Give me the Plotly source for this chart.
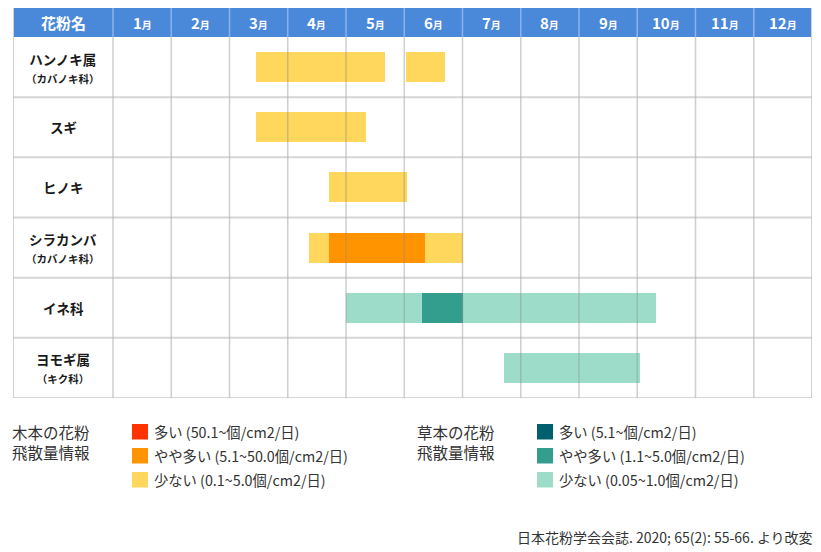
import plotly.graph_objects as go

# ---------------- data ----------------
species = ["ハンノキ属", "スギ", "ヒノキ", "シラカンバ", "イネ科", "ヨモギ属"]
families = ["カバノキ科", "", "", "カバノキ科", "", "キク科"]
months = ["1", "2", "3", "4", "5", "6", "7", "8", "9", "10", "11", "12"]

# flight periods (months since 1 Jan; 2.45 = mid-March)
seg_species = ["ハンノキ属", "ハンノキ属", "スギ", "ヒノキ",
               "シラカンバ", "シラカンバ", "シラカンバ",
               "イネ科", "イネ科", "イネ科", "ヨモギ属"]
seg_start = [2.45, 5.03, 2.45, 3.71, 3.36, 3.70, 5.36, 4.00, 5.30, 6.00, 6.71]
seg_end = [4.67, 5.70, 4.34, 5.04, 3.70, 5.36, 6.01, 5.30, 6.00, 9.33, 9.05]
seg_level = ["w_low", "w_low", "w_low", "w_low", "w_low", "w_mid", "w_low",
             "g_low", "g_mid", "g_low", "g_low"]

level_keys = ["w_high", "w_mid", "w_low", "g_high", "g_mid", "g_low"]
level_labels = ["多い (50.1~個/cm2/日)", "やや多い (5.1~50.0個/cm2/日)", "少ない (0.1~5.0個/cm2/日)",
                "多い (5.1~個/cm2/日)", "やや多い (1.1~5.0個/cm2/日)", "少ない (0.05~1.0個/cm2/日)"]
level_colors = ["#FF3300", "#FF9300", "#FFD75C", "#005E6E", "#349E8E", "#9EDCCA"]
group_titles = ["木本の花粉<br>飛散量情報", "草本の花粉<br>飛散量情報"]
source_text = "日本花粉学会会誌. 2020; 65(2): 55-66. より改変"

# ---------------- layout constants ----------------
OFF = 8                  # page body margin
W, H = 821 - OFF, 552 - OFF
ML, MR, MT, MB = 13 - OFF, 9, 8 - OFF, 552 - 398
NAME_W = -1.717          # name column left edge in month units
HEADER = -0.482          # header top in row units
FONT = "Noto Sans CJK JP"

fig = go.Figure()

row_of = {s: i for i, s in enumerate(species)}
for key, col in zip(level_keys, level_colors):
    ys, xs, bases = [], [], []
    for s, a, b, lv in zip(seg_species, seg_start, seg_end, seg_level):
        if lv == key:
            ys.append(row_of[s] + 0.5)
            xs.append(b - a)
            bases.append(a)
    if ys:
        fig.add_trace(go.Bar(y=ys, x=xs, base=bases, orientation="h", width=0.5,
                             marker=dict(color=col, line=dict(width=0)),
                             showlegend=False, hoverinfo="skip"))

shapes = []
# header background
shapes.append(dict(type="rect", xref="x", yref="y", x0=NAME_W, x1=12, y0=HEADER, y1=0,
                   fillcolor="#4A88DA", line=dict(width=0), layer="below"))
# header separators
for i in range(12):
    shapes.append(dict(type="line", xref="x", yref="y", x0=i, x1=i, y0=HEADER, y1=0,
                       line=dict(color="#8DB3EA", width=1.5), layer="above"))
# vertical grid
for i in range(13):
    shapes.append(dict(type="line", xref="x", yref="y", x0=i, x1=i, y0=0, y1=len(species),
                       line=dict(color="rgba(140,140,140,0.42)", width=1.5), layer="above"))
shapes.append(dict(type="line", xref="x", yref="y", x0=NAME_W, x1=NAME_W, y0=HEADER, y1=len(species),
                   line=dict(color="#D2D2D2", width=2), layer="above"))
shapes.append(dict(type="line", xref="x", yref="y", x0=12, x1=12, y0=HEADER, y1=len(species),
                   line=dict(color="#D2D2D2", width=2), layer="above"))
# horizontal grid
for j in range(1, len(species) + 1):
    shapes.append(dict(type="line", xref="x", yref="y", x0=NAME_W, x1=12, y0=j, y1=j,
                       line=dict(color="rgba(180,180,180,0.55)", width=2), layer="above"))

annotations = []
annotations.append(dict(x=NAME_W / 2, y=HEADER / 2, xref="x", yref="y", showarrow=False,
                        text="<b>花粉名</b>", font=dict(family=FONT, size=15, color="white")))
for i, m in enumerate(months):
    annotations.append(dict(x=i + 0.5, y=HEADER / 2, xref="x", yref="y", showarrow=False,
                            text=f"<b>{m}<span style='font-size:10px'>月</span></b>",
                            font=dict(family=FONT, size=15, color="white")))
for i, (s, f) in enumerate(zip(species, families)):
    txt = f"<b>{s}</b>"
    if f:
        txt += f"<br><span style='font-size:10.5px'><b>（{f}）</b></span>"
    annotations.append(dict(x=NAME_W / 2, y=i + 0.5, xref="x", yref="y", showarrow=False,
                            text=txt, font=dict(family=FONT, size=13.5, color="#1a1a1a"),
                            align="center"))


def px_x(p):
    return (p - OFF - ML) / (W - ML - MR)


def px_y(p):
    return (H - MB - (p - OFF)) / (H - MT - MB)


# legend
group_x = [(10, 132), (415, 537)]
sq_y = [424, 448, 472]
for g in range(2):
    tx, sx = group_x[g]
    annotations.append(dict(x=px_x(tx), y=px_y(419), xref="paper", yref="paper", showarrow=False,
                            xanchor="left", yanchor="top", align="left", text=group_titles[g],
                            font=dict(family=FONT, size=15.5, color="#333333")))
    for k in range(3):
        idx = g * 3 + k
        shapes.append(dict(type="rect", xref="paper", yref="paper",
                           x0=px_x(sx), x1=px_x(sx + 16), y0=px_y(sq_y[k]), y1=px_y(sq_y[k] + 15.5),
                           fillcolor=level_colors[idx], line=dict(width=0)))
        annotations.append(dict(x=px_x(sx + 20), y=px_y(sq_y[k] + 7.5), xref="paper", yref="paper",
                                showarrow=False, xanchor="left", yanchor="middle",
                                text=level_labels[idx],
                                font=dict(family=FONT, size=14.3, color="#333333")))

annotations.append(dict(x=px_x(815), y=px_y(537), xref="paper", yref="paper", showarrow=False,
                        xanchor="right", yanchor="middle", text=source_text,
                        font=dict(family=FONT, size=14, color="#333333")))

fig.update_layout(
    width=W, height=H,
    margin=dict(l=ML, r=MR, t=MT, b=MB),
    paper_bgcolor="white", plot_bgcolor="white",
    barmode="overlay", bargap=0,
    xaxis=dict(range=[NAME_W, 12], showgrid=False, zeroline=False, showticklabels=False,
               fixedrange=True),
    yaxis=dict(range=[len(species), HEADER], showgrid=False, zeroline=False,
               showticklabels=False, fixedrange=True),
    shapes=shapes, annotations=annotations,
    showlegend=False,
)

fig.write_html("out.html")
